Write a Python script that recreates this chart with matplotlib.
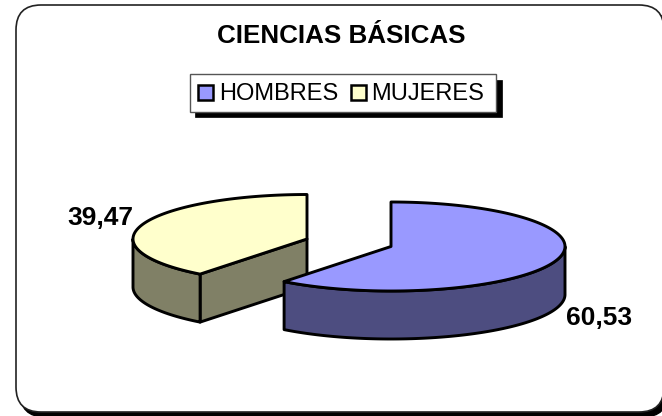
import numpy as np
import matplotlib
matplotlib.use("Agg")
import matplotlib.pyplot as plt
from matplotlib.patches import FancyBboxPatch, Rectangle, Polygon

categorias = ["HOMBRES", "MUJERES"]
valores = [60.53, 39.47]
etiquetas = ["60,53", "39,47"]
titulo = "CIENCIAS BÁSICAS"

col_top = ["#9999FF", "#FFFFCC"]
col_side = ["#4D4D80", "#808066"]

plt.rcParams["font.family"] = ["Liberation Sans", "DejaVu Sans"]

fig = plt.figure(figsize=(6.62, 4.16), dpi=100)
ax = fig.add_axes([0, 0, 1, 1])
ax.set_xlim(0, 662)
ax.set_ylim(416, 0)
ax.axis("off")

# marco con sombra
sombra = FancyBboxPatch((45, 35), 598, 357, boxstyle="round,pad=25,rounding_size=25",
                        fc="black", ec="black", lw=1, zorder=1)
marco = FancyBboxPatch((41, 30), 598, 357, boxstyle="round,pad=25,rounding_size=25",
                       fc="white", ec="#222222", lw=1.2, zorder=2)
ax.add_patch(sombra)
ax.add_patch(marco)

ax.text(341.5, 36, titulo, ha="center", va="center", fontsize=18.7, fontweight="bold", zorder=5)

# leyenda
ax.add_patch(Rectangle((195, 80), 307, 37, fc="black", ec="black", lw=0.5, zorder=3))
ax.add_patch(Rectangle((190, 74), 306, 38, fc="white", ec="#555555", lw=1, zorder=4))
for i, (x_sw, x_txt) in enumerate([(198, 219.5), (351, 371)]):
    ax.add_patch(Rectangle((x_sw, 85), 15, 15, fc=col_top[i], ec="black", lw=1.8, zorder=5))
    ax.text(x_txt, 93.5, categorias[i], ha="left", va="center", fontsize=17, zorder=5)

# tarta 3D
rx, ry, prof = 174, 44.5, 48
centros = [(391, 246.5), (307, 239)]
corte = valores[0] / sum(valores) * 2 * np.pi


def borde(cx, cy, a0, a1):
    t = np.linspace(a0, a1, 150)
    return np.column_stack([cx + rx * np.sin(t), cy - ry * np.cos(t)])


def pared(puntos):
    return np.vstack([puntos, (puntos + [0, prof])[::-1]])


lw_p = 2.1
cx, cy = centros[1]
# mujeres: cara de corte, lateral y tapa
p_corte = np.array([[cx, cy], [cx + rx * np.sin(corte), cy - ry * np.cos(corte)]])
ax.add_patch(Polygon(pared(p_corte), fc=col_side[1], ec="black", lw=lw_p, joinstyle="round", zorder=6))
ax.add_patch(Polygon(pared(borde(cx, cy, corte, 1.5 * np.pi)), fc=col_side[1], ec="black", lw=lw_p, joinstyle="round", zorder=6))
tapa = np.vstack([[cx, cy], borde(cx, cy, corte, 2 * np.pi)])
ax.add_patch(Polygon(tapa, fc=col_top[1], ec="black", lw=lw_p, joinstyle="round", zorder=7))

cx, cy = centros[0]
# hombres: lateral y tapa
ax.add_patch(Polygon(pared(borde(cx, cy, np.pi / 2, corte)), fc=col_side[0], ec="black", lw=lw_p, joinstyle="round", zorder=8))
tapa = np.vstack([[cx, cy], borde(cx, cy, 0, corte)])
ax.add_patch(Polygon(tapa, fc=col_top[0], ec="black", lw=lw_p, joinstyle="round", zorder=9))

ax.text(599, 318, etiquetas[0], ha="center", va="center", fontsize=19, fontweight="bold", zorder=10)
ax.text(100, 218, etiquetas[1], ha="center", va="center", fontsize=19, fontweight="bold", zorder=10)

fig.savefig("out.png", dpi=100)
